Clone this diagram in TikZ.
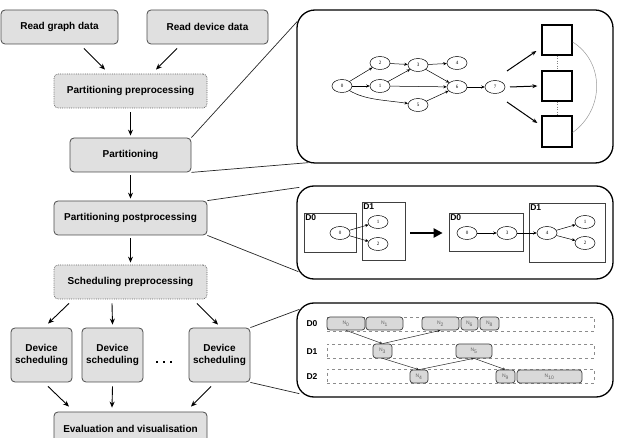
\documentclass[tikz,border=0pt]{standalone}
\usepackage{fontspec}
\setmainfont{Liberation Sans}
\newfontfamily\serifsmall{Liberation Serif}
\usetikzlibrary{arrows.meta,calc,shapes.geometric}
\begin{document}
\begin{tikzpicture}[x=1pt,y=-1pt,
  flowbox/.style={draw=black!70, fill=black!12, rounded corners=4pt, line width=0.8pt,
    font=\fontsize{10}{12}\selectfont\bfseries, align=center, inner sep=0pt},
  dotbox/.style={flowbox, densely dotted, draw=black!60},
  arr/.style={-{Stealth[length=6pt,width=5pt]}, line width=0.9pt},
  panel/.style={draw=black, line width=1.3pt, rounded corners=18pt, inner sep=0pt},
  zoomline/.style={line width=0.7pt, black!85},
  gnode/.style={ellipse, draw=black, line width=0.5pt, minimum width=20pt, minimum height=13pt,
    inner sep=0pt, font=\serifsmall\fontsize{5}{5}\selectfont},
  garr/.style={-{Stealth[length=3.5pt,width=3pt]}, line width=0.5pt},
  devbox/.style={draw=black, line width=1.3pt, minimum width=30pt, minimum height=30pt, inner sep=0pt},
  partbox/.style={draw=black!75, line width=0.7pt, inner sep=0pt},
  dlabel/.style={font=\fontsize{8.5}{9}\selectfont\bfseries, inner sep=1.5pt, anchor=north west},
  rowlabel/.style={font=\fontsize{8.5}{9}\selectfont\bfseries, inner sep=0pt},
  rowbox/.style={draw=black!45, dashed, line width=0.4pt, minimum width=267pt, minimum height=14pt, inner sep=0pt},
  tnode/.style={draw=black!75, fill=black!15, rounded corners=3pt, line width=0.7pt, minimum height=13pt,
    inner sep=0pt, text=black!60, font=\fontsize{5}{5}\selectfont},
  tarr/.style={-{Stealth[length=3pt,width=2.5pt]}, line width=0.5pt, black!85},
  dotsq/.style={fill=black, minimum size=2.8pt, inner sep=0pt}
]
\clip (0,0) rectangle (619,438);
\useasboundingbox (0,0) rectangle (619,438);

% ---- left flow ----
\node[flowbox, minimum width=117pt, minimum height=34pt] (rg) at (59.5,27) {Read graph data};
\node[flowbox, minimum width=121pt, minimum height=34pt] (rd) at (207.5,27) {Read device data};
\node[dotbox, minimum width=153pt, minimum height=34pt] (pp) at (130.5,91) {Partitioning preprocessing};
\node[flowbox, minimum width=121pt, minimum height=34pt] (pa) at (130.5,155) {Partitioning};
\node[flowbox, minimum width=153pt, minimum height=34pt] (po) at (130.5,218) {Partitioning postprocessing};
\node[dotbox, minimum width=153pt, minimum height=34pt] (sp) at (130.5,282) {Scheduling preprocessing};
\node[flowbox, minimum width=61pt, minimum height=54pt] (ds1) at (41.5,355) {Device\\scheduling};
\node[flowbox, minimum width=61pt, minimum height=54pt] (ds2) at (112.5,355) {Device\\scheduling};
\node[flowbox, minimum width=61pt, minimum height=54pt] (ds3) at (219.5,355) {Device\\scheduling};
\node[dotsq] (dt1) at (157,362) {};
\node[dotsq] (dt2) at (164,362) {};
\node[dotsq] (dt3) at (171,362) {};
\node[flowbox, minimum width=153pt, minimum height=34pt] (ev) at (130.5,429) {Evaluation and visualisation};

\draw[arr] ($(rg.south)+(24.5,4)$) -- ($(pp.north)+(-25.5,-4)$);
\draw[arr] ($(rd.south)+(-30.5,4)$) -- ($(pp.north)+(25.5,-4)$);
\draw[arr] ($(pp.south)+(0,4)$) -- ($(pa.north)+(0,-2)$);
\draw[arr] ($(pa.south)+(0,3)$) -- ($(po.north)+(0,-2)$);
\draw[arr] ($(po.south)+(0,3)$) -- ($(sp.north)+(0,-2)$);
\draw[arr] ($(sp.south)+(-61.5,4)$) -- ($(ds1.north)+(6.5,-4)$);
\draw[arr] ($(sp.south)+(-18.5,4)$) -- ($(ds2.north)+(0,-3)$);
\draw[arr] ($(sp.south)+(66.5,4)$) -- ($(ds3.north)+(-1.5,-3)$);
\draw[arr] ($(ds1.south)+(6.5,4)$) -- ($(ev.north)+(-61.5,-5)$);
\draw[arr] ($(ds2.south)+(0,4)$) -- ($(ev.north)+(-18.5,-4)$);
\draw[arr] ($(ds3.south)+(-8.5,4)$) -- ($(ev.north)+(60.5,-5)$);

% ---- panels ----
\node[panel, minimum width=316pt, minimum height=153pt] (p1) at (455,86.5) {};
\node[panel, minimum width=316pt, minimum height=93pt, rounded corners=17pt] (p2) at (455,232.5) {};
\node[panel, minimum width=316pt, minimum height=94pt, rounded corners=17pt] (p3) at (455,350) {};

\draw[zoomline] (pa.north east) -- ($(p1.north west)+(1,12)$);
\draw[zoomline] (pa.south east) -- ($(p1.south west)+(12,-1)$);
\draw[zoomline] (po.north east) -- ($(p2.north west)+(3,2)$);
\draw[zoomline] (po.south east) -- ($(p2.south west)+(2,-8)$);
\draw[zoomline] (ds3.north east) -- ($(p3.north west)+(3,7)$);
\draw[zoomline] (ds3.south east) -- ($(p3.south west)+(3,-4)$);

% ---- panel 1: graph ----
\node[gnode] (g0) at (342,86) {0};
\node[gnode] (g2) at (380,63) {2};
\node[gnode] (g1) at (380,86) {1};
\node[gnode] (g3) at (418,65) {3};
\node[gnode] (g4) at (457,63) {4};
\node[gnode] (g6) at (457,87) {6};
\node[gnode] (g5) at (418,105) {5};
\node[gnode] (g7) at (495,87) {7};
\draw[garr] (g0) -- (g2);
\draw[garr] (g0) -- (g1);
\draw[garr] (g0) .. controls (365,100) and (385,100) .. (g5);
\draw[garr] (g2) -- (g3);
\draw[garr] (g1) -- (g3);
\draw[garr] (g1) -- (g6);
\draw[garr] (g3) -- (g4);
\draw[garr] (g3) -- (g6);
\draw[garr] (g5) -- (g6);
\draw[garr] (g6) -- (g7);

\node[devbox] (b1) at (557,40) {};
\node[devbox] (b2) at (557,86) {};
\node[devbox, minimum height=31pt] (b3) at (557,131.5) {};
\draw[gray, dotted, line width=0.5pt] (b1.south) -- (b2.north);
\draw[gray, dotted, line width=0.5pt] (b2.south) -- (b3.north);
\draw[black!40, line width=0.5pt] ($(b1.east)+(0,2)$) .. controls ($(b1.east)+(32,22)$) and ($(b3.east)+(32,-22)$) .. ($(b3.east)+(0,1)$);
\draw[-{Stealth[length=5pt,width=4pt]}, line width=1pt] ($(g7)+(12,-16)$) -- ($(b1.west)+(-5,11)$);
\draw[-{Stealth[length=5pt,width=4pt]}, line width=1pt] ($(g7)+(15,0)$) -- ($(b2.west)+(-4,0)$);
\draw[-{Stealth[length=5pt,width=4pt]}, line width=1pt] ($(g7)+(12,15)$) -- ($(b3.west)+(-4,-8.5)$);

% ---- panel 2: partition postprocessing ----
\node[partbox, minimum width=52pt, minimum height=39pt] (l0) at (330,232.5) {};
\node[partbox, minimum width=43pt, minimum height=58pt] (l1) at (383.5,231) {};
\node[dlabel] (l0t) at (l0.north west) {D0};
\node[dlabel] (l1t) at (l1.north west) {D1};
\node[gnode] (a0) at (340,233) {0};
\node[gnode] (a1) at (378,222) {1};
\node[gnode] (a2) at (378,244) {2};
\draw[garr] (a0) -- (a1);
\draw[garr] (a0) -- (a2);

\node[partbox, minimum width=74pt, minimum height=38pt] (r0) at (486,232) {};
\node[partbox, minimum width=76pt, minimum height=59pt] (r1) at (567,232.5) {};
\node[dlabel] (r0t) at (r0.north west) {D0};
\node[dlabel] (r1t) at (r1.north west) {D1};
\node[gnode] (c0) at (467,233) {0};
\node[gnode] (c3) at (507,233) {3};
\node[gnode] (c4) at (547,233) {4};
\node[gnode] (c1) at (585,222) {1};
\node[gnode] (c2) at (585,243) {2};
\draw[garr] (c0) -- (c3);
\draw[garr] (c3) -- (c4);
\draw[garr] (c4) -- (c1);
\draw[garr] (c4) -- (c2);
\draw[-{Triangle[length=9pt,width=9pt]}, line width=2.2pt, shorten <=5pt, shorten >=6pt] (l1.east |- a0) -- (r0.west |- c0);

% ---- panel 3: scheduling ----
\node[rowlabel] (d0) at (312,324) {D0};
\node[rowlabel] (d1) at (312,352) {D1};
\node[rowlabel] (d2) at (312,377) {D2};
\node[rowbox] (row0) at (460.5,324) {};
\node[rowbox] (row1) at (460.5,351) {};
\node[rowbox] (row2) at (460.5,376) {};

\node[tnode, minimum width=38pt] (t0) at (346,323.5) {N\textsubscript{0}};
\node[tnode, minimum width=37pt] (t1) at (384.5,323.5) {N\textsubscript{1}};
\node[tnode, minimum width=37pt] (t2) at (440.5,323.5) {N\textsubscript{2}};
\node[tnode, minimum width=17pt] (t6) at (469.5,323.5) {N\textsubscript{6}};
\node[tnode, minimum width=19pt] (t8) at (489.5,323.5) {N\textsubscript{8}};
\node[tnode, minimum width=19pt, minimum height=14pt] (t3) at (382.5,351) {N\textsubscript{3}};
\node[tnode, minimum width=36pt, minimum height=14pt] (t5) at (474,351) {N\textsubscript{5}};
\node[tnode, minimum width=18pt] (t4) at (419,376.5) {N\textsubscript{4}};
\node[tnode, minimum width=19pt] (t9) at (505.5,376.5) {N\textsubscript{9}};
\node[tnode, minimum width=65pt] (t10) at (549.5,376.5) {N\textsubscript{10}};

\draw[tarr] (t0.south) -- (t3.north);
\draw[tarr] (t3.north) -- (t2.south);
\draw[tarr] (t3.south) -- (t4.north);
\draw[tarr] (t4.north) -- (t5.south);
\draw[tarr] (t5.south) -- (t9.north);
\end{tikzpicture}
\end{document}
